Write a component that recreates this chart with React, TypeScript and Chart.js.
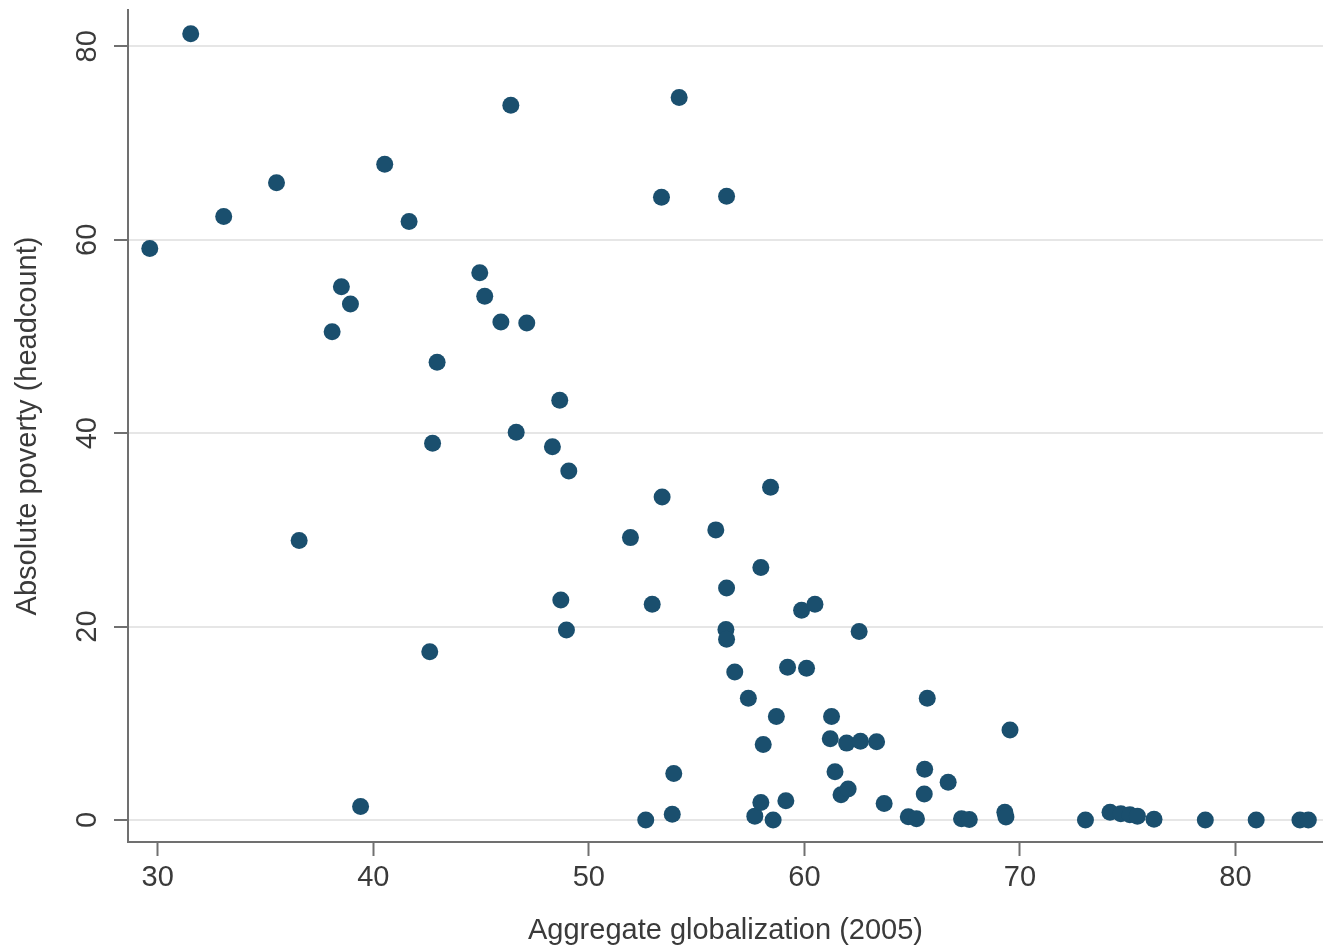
import React, { useEffect, useRef } from "react";
import { Chart, registerables } from "chart.js";

Chart.register(...registerables);

// Aggregate globalization index (2005), one value per country
const globalization = [
  29.63, 31.53, 33.06, 35.51, 36.56, 38.09, 38.52, 38.94, 39.41, 40.53,
  41.66, 42.62, 42.75, 42.96, 44.94, 45.17, 45.92, 46.38, 46.63, 47.12,
  48.31, 48.65, 48.7, 48.96, 49.07, 51.93, 52.64, 52.94, 53.37, 53.4,
  53.87, 53.94, 54.19, 55.89, 56.36, 56.39, 56.39, 56.39, 56.77, 57.4,
  57.7, 57.98, 57.98, 58.09, 58.43, 58.55, 58.7, 59.14, 59.22, 59.87,
  60.1, 60.49, 61.26, 61.2, 61.42, 61.7, 61.96, 62.03, 62.54, 62.6,
  63.35, 63.7, 64.82, 65.2, 65.56, 65.58, 65.7, 66.67, 67.29, 67.65,
  69.3, 69.35, 69.54, 73.04, 74.18, 74.68, 75.1, 75.45, 76.22, 78.6,
  80.96, 82.99, 83.38,
];

// Absolute poverty headcount (%), same order as above
const poverty = [
  59.1, 81.3, 62.4, 65.9, 28.9, 50.5, 55.15, 53.36, 1.4, 67.8,
  61.9, 17.4, 38.95, 47.33, 56.6, 54.15, 51.5, 73.9, 40.1, 51.4,
  38.6, 43.4, 22.75, 19.65, 36.1, 29.2, 0, 22.3, 64.4, 33.4,
  0.6, 4.8, 74.7, 30.0, 19.7, 18.7, 24.0, 64.5, 15.3, 12.6,
  0.4, 1.8, 26.1, 7.8, 34.4, 0, 10.7, 2.0, 15.8, 21.7,
  15.7, 22.3, 10.7, 8.4, 5.0, 2.6, 7.95, 3.2, 19.5, 8.15,
  8.1, 1.7, 0.34, 0.12, 2.7, 5.25, 12.6, 3.9, 0.12, 0.05,
  0.8, 0.3, 9.3, 0, 0.8, 0.65, 0.55, 0.4, 0.07, 0,
  0, 0, 0,
];

const xTicks = [30, 40, 50, 60, 70, 80];
const yTicks = [0, 20, 40, 60, 80];

const xTitle = "Aggregate globalization (2005)";
const yTitle = "Absolute poverty (headcount)";

const MARKER = "#1a4f6e";
const AXIS = "#707070";
const TEXT = "#3a3a3a";
const GRID = "#e6e6e6";

export default function App() {
  const ref = useRef<HTMLCanvasElement | null>(null);

  useEffect(() => {
    if (!ref.current) return;
    const points = globalization.map((x, i) => ({ x, y: poverty[i] }));
    const font = { family: "'Liberation Sans', Arial, sans-serif", size: 29, lineHeight: 1 };

    const chart = new Chart(ref.current, {
      type: "scatter",
      data: {
        datasets: [
          {
            data: points,
            backgroundColor: MARKER,
            borderColor: MARKER,
            borderWidth: 0,
            pointRadius: 8.5,
            pointHoverRadius: 8.5,
          },
        ],
      },
      options: {
        animation: false,
        responsive: true,
        maintainAspectRatio: false,
        events: [],
        layout: { autoPadding: false, padding: { top: 10, left: 0, right: 0, bottom: 0 } },
        plugins: {
          legend: { display: false },
          tooltip: { enabled: false },
        },
        scales: {
          x: {
            type: "linear",
            min: 28.62,
            max: 84.06,
            afterBuildTicks: (s: any) => {
              s.ticks = xTicks.map((v) => ({ value: v }));
            },
            afterFit: (s: any) => {
              s.height = 106;
              s.paddingLeft = 0;
              s.paddingRight = 0;
            },
            grid: {
              drawOnChartArea: false,
              drawTicks: true,
              tickLength: 14,
              tickColor: AXIS,
              tickWidth: 2,
            },
            border: { display: true, color: AXIS, width: 2 },
            ticks: { font, color: TEXT, padding: 7, maxRotation: 0, autoSkip: false },
            title: {
              display: true,
              text: xTitle,
              font,
              color: TEXT,
              padding: { top: 0, bottom: 2.5 },
            },
          },
          y: {
            type: "linear",
            min: -2.275,
            max: 83.76,
            afterBuildTicks: (s: any) => {
              s.ticks = yTicks.map((v) => ({ value: v }));
            },
            afterFit: (s: any) => {
              s.width = 128;
              s.paddingTop = 0;
              s.paddingBottom = 0;
            },
            grid: {
              color: GRID,
              lineWidth: 2,
              drawTicks: true,
              tickLength: 14,
              tickColor: AXIS,
              tickWidth: 2,
            },
            border: { display: true, color: AXIS, width: 2 },
            ticks: {
              font,
              color: TEXT,
              padding: 9.6,
              minRotation: 90,
              maxRotation: 90,
              crossAlign: "center",
              autoSkip: false,
            },
            title: {
              display: true,
              text: yTitle,
              font,
              color: TEXT,
              padding: { top: 13.5, bottom: 0 },
            },
          },
        },
      },
    } as any);

    return () => chart.destroy();
  }, []);

  return (
    <div style={{ position: "fixed", left: 0, top: 0, width: 1323, height: 948 }}>
      <canvas ref={ref} />
    </div>
  );
}
